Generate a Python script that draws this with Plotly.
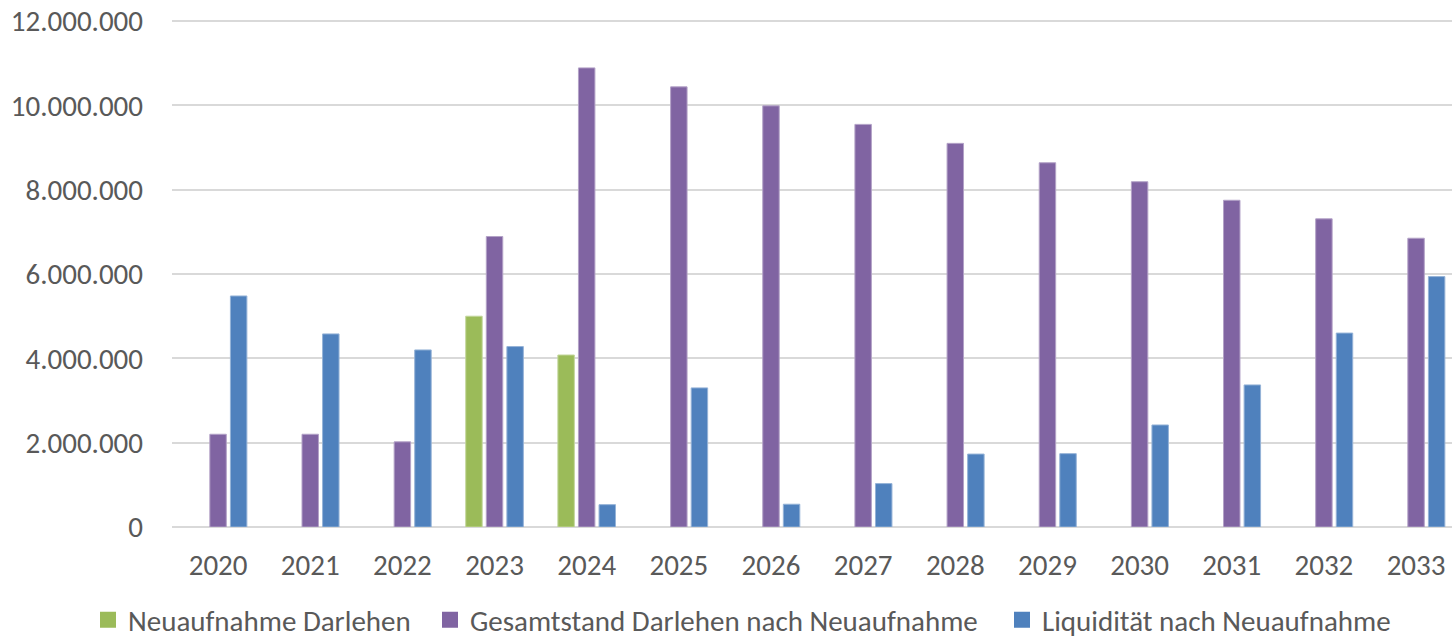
import plotly.graph_objects as go

years = ["2020", "2021", "2022", "2023", "2024", "2025", "2026", "2027",
         "2028", "2029", "2030", "2031", "2032", "2033"]
neuaufnahme = [None, None, None, 5000000, 4080000, None, None, None,
               None, None, None, None, None, None]
gesamtstand = [2200000, 2200000, 2020000, 6890000, 10890000, 10440000, 9990000,
               9550000, 9100000, 8640000, 8190000, 7750000, 7310000, 6850000]
liquiditaet = [5480000, 4580000, 4200000, 4280000, 530000, 3300000, 540000,
               1030000, 1730000, 1740000, 2420000, 3370000, 4600000, 5940000]

names = ["Neuaufnahme Darlehen", "Gesamtstand Darlehen nach Neuaufnahme",
         "Liquidität nach Neuaufnahme"]
colors = ["#9BBB59", "#8064A2", "#4F81BD"]
edges = ["#C3D69B", "#B3A2C7", "#95B3D7"]

W, H = 1452, 639
font = "Calibri, Carlito, Lato, sans-serif"
legend_ids = ["legend", "legend2", "legend3"]
legend_x = [88, 430, 1002]  # left edge of each legend box, px

fig = go.Figure()
for name, vals, c, e in zip(names, [neuaufnahme, gesamtstand, liquiditaet], colors, edges):
    fig.add_trace(go.Bar(x=years, y=vals, name=name, showlegend=False,
                         marker=dict(color=c, line=dict(color=e, width=1))))
for name, c, lid in zip(names, colors, legend_ids):
    fig.add_trace(go.Scatter(x=[None], y=[None], name=name, mode="markers",
                             legend=lid, showlegend=True,
                             marker=dict(symbol="square", size=16, color=c)))

legend_common = dict(orientation="h", xref="container", yref="container",
                     xanchor="left", yanchor="middle", y=19 / H,
                     font=dict(size=29, family=font, color="#595959"),
                     itemwidth=30, bgcolor="rgba(0,0,0,0)", borderwidth=0)

fig.update_layout(
    width=W, height=H,
    margin=dict(l=172, r=0, t=19, b=112, autoexpand=False),
    paper_bgcolor="white", plot_bgcolor="white",
    barmode="group", bargap=0.33, bargroupgap=0.2,
    separators=",.",
    font=dict(family=font, color="#595959", size=29),
    xaxis=dict(range=[-0.5, 13.39], showgrid=False, showline=False,
               ticks="", ticklabelstandoff=18, automargin=False,
               tickfont=dict(size=29, family=font, color="#595959")),
    yaxis=dict(range=[0, 12050000], dtick=2000000, tickformat=",.0f",
               gridcolor="#D9D9D9", gridwidth=1.5, zeroline=True,
               zerolinecolor="#D9D9D9", zerolinewidth=1.5, automargin=False,
               ticks="", ticklabelstandoff=28, ticklabeloverflow="allow",
               tickfont=dict(size=29, family=font, color="#595959")),
    legend=dict(x=legend_x[0] / W, **legend_common),
    legend2=dict(x=legend_x[1] / W, **legend_common),
    legend3=dict(x=legend_x[2] / W, **legend_common),
    showlegend=True,
)
fig.write_html("out.html", config={"displayModeBar": False},
               post_script="document.body.style.margin='0';document.body.style.overflow='hidden';")
